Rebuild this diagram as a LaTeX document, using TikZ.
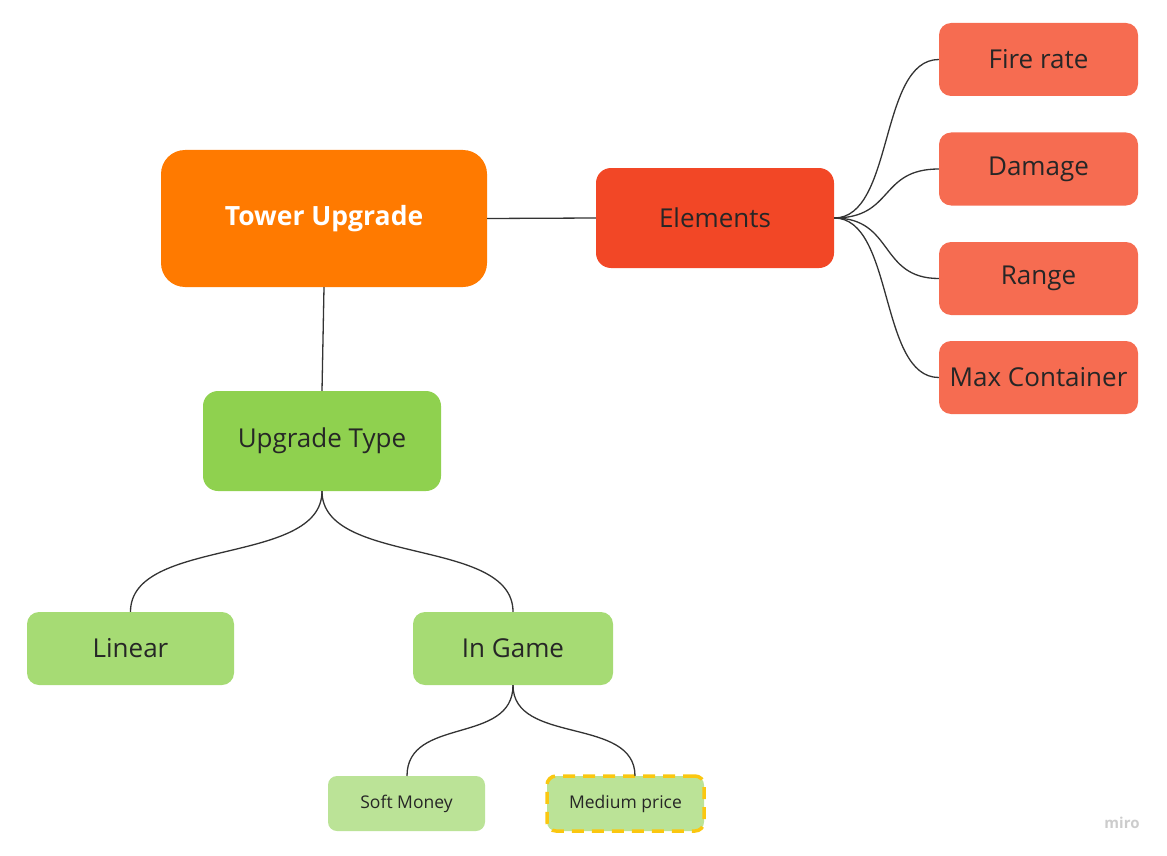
\documentclass[tikz,border=0pt]{standalone}
\usepackage{fontspec}
\setmainfont{Open Sans}
\usepackage{xcolor}
\usetikzlibrary{positioning, calc}

\definecolor{towerorange}{HTML}{FF7A00}
\definecolor{elemred}{HTML}{F24726}
\definecolor{leafred}{HTML}{F66C51}
\definecolor{typegreen}{HTML}{8FD14F}
\definecolor{kindgreen}{HTML}{A6DB74}
\definecolor{pricegreen}{HTML}{BBE397}
\definecolor{edgeyellow}{HTML}{FAC710}
\definecolor{linkgray}{HTML}{333333}
\definecolor{textdark}{HTML}{262626}

\tikzset{
  topic/.style={rounded corners=8pt, text=textdark, inner sep=0pt},
  root/.style={topic, fill=towerorange, minimum width=326pt, minimum height=137pt,
    rounded corners=24pt, text=white, font=\fontsize{26.5}{30}\selectfont\bfseries},
  mid/.style={topic, fill=#1, minimum width=238pt, minimum height=100pt,
    rounded corners=15pt, font=\fontsize{26}{30}\selectfont},
  leaf/.style={topic, fill=#1, minimum width=199pt, minimum height=73pt,
    rounded corners=12pt, font=\fontsize{26}{30}\selectfont},
  small/.style={topic, fill=pricegreen, minimum width=157pt, minimum height=55pt,
    rounded corners=9pt, font=\fontsize{17.5}{20}\selectfont},
  link/.style={draw=linkgray, line width=1.3pt},
}

\begin{document}
\begin{tikzpicture}[x=1pt, y=-1pt]
\useasboundingbox (0,0) rectangle (1167,856);

% main topic and first level
\node[root] (tower) at (324,218.5) {Tower Upgrade};
\node[mid=elemred] (elements) at (715,218) {Elements};
\node[mid=typegreen] (utype) at (322,441) {Upgrade Type};

% element leaves
\node[leaf=leafred] (fire) at (1038.5,59.5) {Fire rate};
\node[leaf=leafred] (damage) at (1038.5,169) {Damage};
\node[leaf=leafred] (range) at (1038.5,278.5) {Range};
\node[leaf=leafred] (maxc) at (1038.5,377.5) {Max Container};

% upgrade kinds
\node[leaf=kindgreen, minimum width=207pt] (linear) at (130.5,648.5) {Linear};
\node[leaf=kindgreen, minimum width=200pt] (ingame) at (513,648.5) {In Game};

% prices
\node[small] (soft) at (406.5,803.5) {Soft Money};
\node[small, draw=edgeyellow, line width=3.5pt, dash pattern=on 12pt off 8pt] (medium) at (625.5,803.5) {Medium price};

% connectors
\draw[link] (tower.east) -- (elements.west);
\draw[link] (tower.south) -- (utype.north);

\foreach \leafnode in {fire, damage, range, maxc}
  \draw[link] (elements.east) .. controls +(60,0) and ($(\leafnode.west)+(-60,0)$) .. (\leafnode.west);

\coordinate (softtop) at (407,776);
\coordinate (medtop) at (635,776);
\draw[link] (utype.south) .. controls +(0,75) and +(0,-75) .. (linear.north);
\draw[link] (utype.south) .. controls +(0,75) and +(0,-75) .. (ingame.north);
\draw[link] (ingame.south) .. controls +(0,60) and +(0,-60) .. (softtop);
\draw[link] (ingame.south) .. controls +(0,60) and +(0,-60) .. (medtop);

% watermark
\node[text=black!20, font=\fontsize{15}{18}\selectfont\bfseries] (miro) at (1122,823) {miro};
\end{tikzpicture}
\end{document}
